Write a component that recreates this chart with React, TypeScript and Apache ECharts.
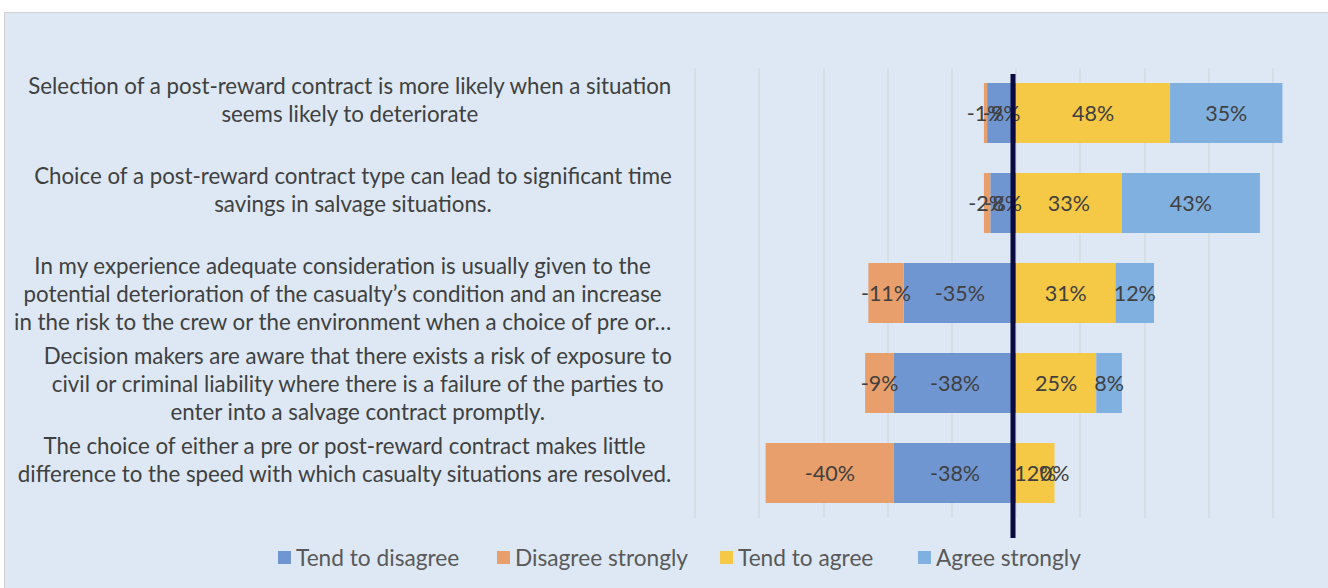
import React, { useEffect, useRef } from "react";
import * as echarts from "echarts";

const categories = [
  "Selection of a post-reward contract is more likely when a situation\nseems likely to deteriorate",
  "Choice of a post-reward contract type can lead to significant time\nsavings in salvage situations.",
  "In my experience adequate consideration is usually given to the\npotential deterioration of the casualty’s condition and an increase\nin the risk to the crew or the environment when a choice of pre or…",
  "Decision makers are aware that there exists a risk of exposure to\ncivil or criminal liability where there is a failure of the parties to\nenter into a salvage contract promptly.",
  "The choice of either a pre or post-reward contract makes little\ndifference to the speed with which casualty situations are resolved.",
];
const seriesNames = ["Tend to disagree", "Disagree strongly", "Tend to agree", "Agree strongly"];
const tendToDisagree = [-9, -8, -35, -38, -38];
const disagreeStrongly = [-1, -2, -11, -9, -40];
const tendToAgree = [48, 33, 31, 25, 12];
const agreeStrongly = [35, 43, 12, 8, 0];
const axisMin = -100;
const axisMax = 100;
const axisInterval = 20;

const colors = ["#7096d2", "#e99f6b", "#f5c945", "#80b0e0"];
const legendLefts = [273, 492, 715, 913];
const FONT = "Lato, 'Open Sans', sans-serif";

export default function App() {
  const ref = useRef<HTMLDivElement>(null);
  useEffect(() => {
    if (!ref.current) return;
    const chart = echarts.init(ref.current, null, { renderer: "svg" });
    const values = [tendToDisagree, disagreeStrongly, tendToAgree, agreeStrongly];
    const barSeries = values.map((vals, i) => ({
      name: seriesNames[i],
      type: "bar",
      stack: "total",
      barWidth: 60,
      data: vals,
      itemStyle: { color: colors[i] },
      label: {
        show: true,
        position: "inside",
        formatter: (p: any) => `${p.value}%`,
        fontFamily: FONT,
        fontSize: 21.5,
        color: "#404040",
      },
      z: 2,
    }));
    chart.setOption({
      animation: false,
      backgroundColor: "#ffffff",
      graphic: [
        {
          type: "rect",
          z: -10,
          silent: true,
          shape: { x: 4.5, y: 12.5, width: 1340, height: 600 },
          style: { fill: "#dde8f4", stroke: "#d2d2d2", lineWidth: 1 },
        },
      ],
      grid: { left: 695, width: 642, top: 68, height: 450, containLabel: false },
      legend: seriesNames.map((name, i) => ({
        data: [name],
        left: legendLefts[i],
        top: 541,
        icon: "rect",
        itemWidth: 13,
        itemHeight: 13,
        textStyle: { fontFamily: FONT, fontSize: 22.7, color: "#595959" },
      })),
      xAxis: {
        type: "value",
        min: axisMin,
        max: axisMax,
        interval: axisInterval,
        axisLabel: { show: false },
        axisLine: { show: false },
        axisTick: { show: false },
        splitLine: { show: true, lineStyle: { color: "#d6dbe1", width: 1.5 } },
      },
      yAxis: {
        type: "category",
        data: categories,
        inverse: true,
        axisLine: { show: false },
        axisTick: { show: false },
        axisLabel: {
          margin: 23,
          formatter: (v: string) => {
            const lines = v.split("\n");
            if (lines.length === 2) lines.push(" ");
            return lines.map((l) => `{c|${l}}`).join("\n");
          },
          rich: {
            c: { align: "center", fontFamily: FONT, fontSize: 22.3, color: "#404040", lineHeight: 28 },
          },
        },
      },
      series: [
        ...barSeries,
        {
          name: "zeroLine",
          type: "custom",
          data: [[0, 0]],
          encode: { x: 0, y: 1 },
          z: 5,
          silent: true,
          renderItem: (params: any, api: any) => {
            const p = api.coord([api.value(0), api.value(1)]);
            const cs = params.coordSys;
            return {
              type: "line",
              shape: { x1: p[0] - 3, y1: cs.y + 6, x2: p[0] - 3, y2: cs.y + cs.height + 20 },
              style: { stroke: "#0a0a40", lineWidth: 5 },
            };
          },
        },
      ],
    });
    return () => chart.dispose();
  }, []);
  return (
    <div style={{ position: "absolute", left: 0, top: 0, width: 1328, height: 588, overflow: "hidden" }}>
      <div ref={ref} style={{ width: 1345, height: 588 }} />
    </div>
  );
}
